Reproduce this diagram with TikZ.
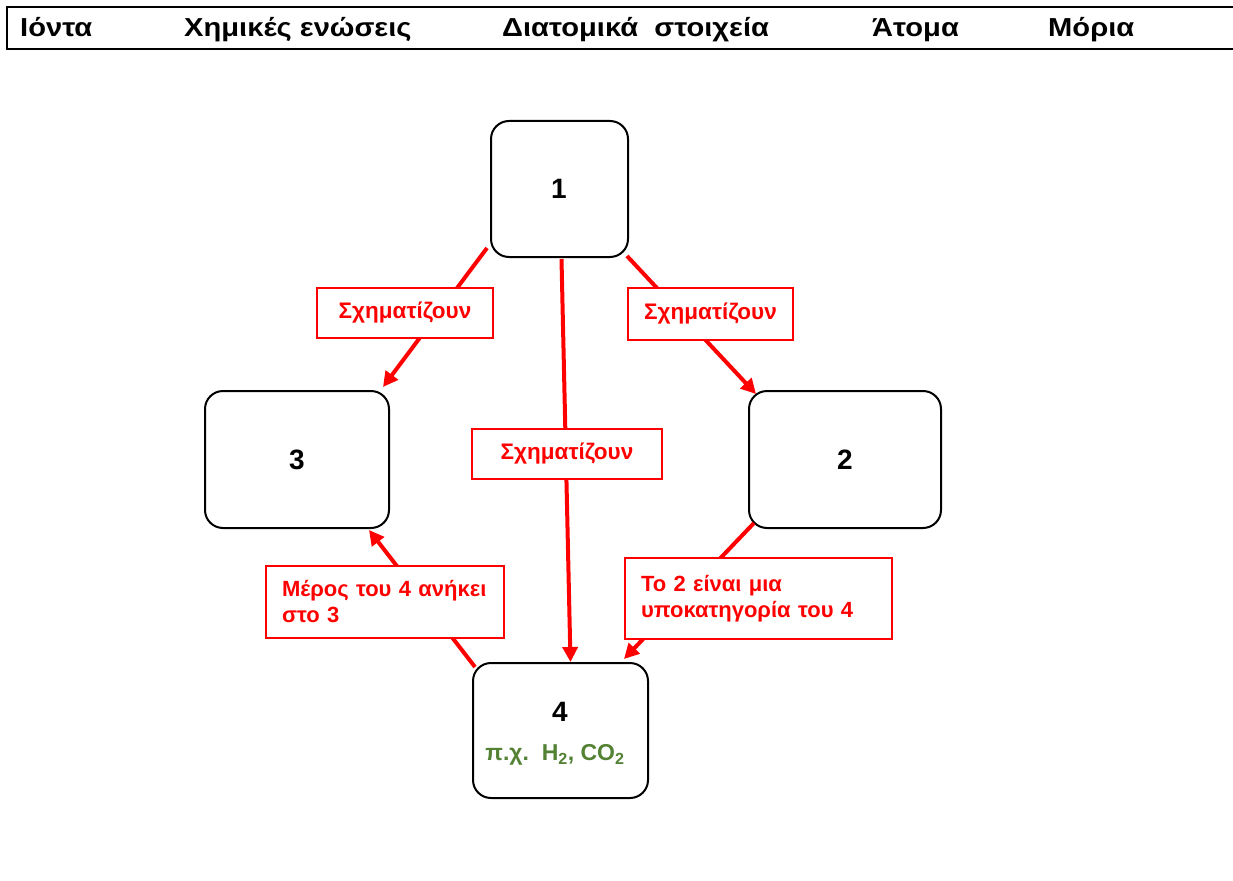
\documentclass[tikz,border=0pt]{standalone}
\usepackage{fontspec}
\setmainfont{Liberation Sans}
\newfontfamily\hdrfont[FakeStretch=1.12]{Liberation Sans}
\usetikzlibrary{arrows.meta}
\definecolor{exgreen}{RGB}{84,130,53}
\tikzset{
  box/.style={draw=black, line width=2pt, rounded corners=18pt, inner sep=0pt, fill=white},
  digit/.style={font=\fontsize{28}{32}\selectfont\bfseries, inner sep=0pt},
  lbl/.style={draw=red, line width=1.5pt, fill=white, text=red, inner sep=0pt,
              font=\fontsize{22.5}{26}\selectfont\bfseries},
  lbltwo/.style={lbl, font=\fontsize{22}{26}\selectfont\bfseries, align=left, inner xsep=16pt},
  arr/.style={draw=red, line width=4pt, -{Triangle[length=15pt,width=15pt]}},
  hdr/.style={font=\hdrfont\fontsize{26}{30}\selectfont\bfseries, anchor=base west, inner sep=0pt}
}
\begin{document}
\begin{tikzpicture}[x=1pt,y=-1pt]
\useasboundingbox[fill=white] (0,0) rectangle (1233,880);
% header bar
\draw[line width=2.5pt] (1240,7) -- (7,7) -- (7,49) -- (1240,49);
\node[hdr] (h1) at (20,37) {Ιόντα};
\node[hdr] (h2) at (184,37) {Χημικές ενώσεις};
\node[hdr] (h3) at (502,37) {Διατομικά\ \ στοιχεία};
\node[hdr] (h4) at (872,37) {Άτομα};
\node[hdr] (h5) at (1048,37) {Μόρια};
% boxes
\node[box, minimum width=137pt, minimum height=136pt] (b1) at (559.5,189) {};
\node[box, minimum width=184pt, minimum height=137pt] (b3) at (297,459.5) {};
\node[box, minimum width=192pt, minimum height=137pt] (b2) at (845,459.5) {};
\node[box, minimum width=175pt, minimum height=135pt] (b4) at (560.5,730.5) {};
\node[digit] (t1) at (559,189) {1};
\node[digit] (t3) at (297,460) {3};
\node[digit] (t2) at (845,460) {2};
\node[digit] (t4) at (560,712) {4};
\node[font=\fontsize{23}{27}\selectfont\bfseries, text=exgreen, inner sep=0pt] (ex4) at (555,755) {π.χ.\ \ H\textsubscript{2}, CO\textsubscript{2}};
% connectors
\draw[arr] ([shift={(-3,-10)}]b1.south west) -- ([shift={(-7,-3)}]b3.north east);
\draw[arr] ([shift={(-2,-2)}]b1.south east) -- ([shift={(8,4)}]b2.north west);
\draw[arr] ([shift={(2,1)}]b1.south) -- ([shift={(10,0)}]b4.north);
\draw[arr] ([shift={(3,5)}]b4.north west) -- ([shift={(-21,1)}]b3.south east);
\draw[arr] ([shift={(6,-6)}]b2.south west) -- ([shift={(-25,-3)}]b4.north east);
% labels
\node[lbl, minimum width=176pt, minimum height=50pt] (l13) at (405,313) {Σχηματίζουν};
\node[lbl, minimum width=165pt, minimum height=52pt] (l12) at (710.5,314) {Σχηματίζουν};
\node[lbl, minimum width=190pt, minimum height=50pt] (lc) at (567,454) {Σχηματίζουν};
\node[lbltwo, minimum width=238pt, minimum height=72pt, text width=206pt] (l43) at (385,602) {Μέρος του 4 ανήκει\\στο 3};
\node[lbltwo, minimum width=267pt, minimum height=81pt, text width=235pt] (l24) at (758.5,598.5) {Το 2 είναι μια\\υποκατηγορία του 4};
\end{tikzpicture}
\end{document}
